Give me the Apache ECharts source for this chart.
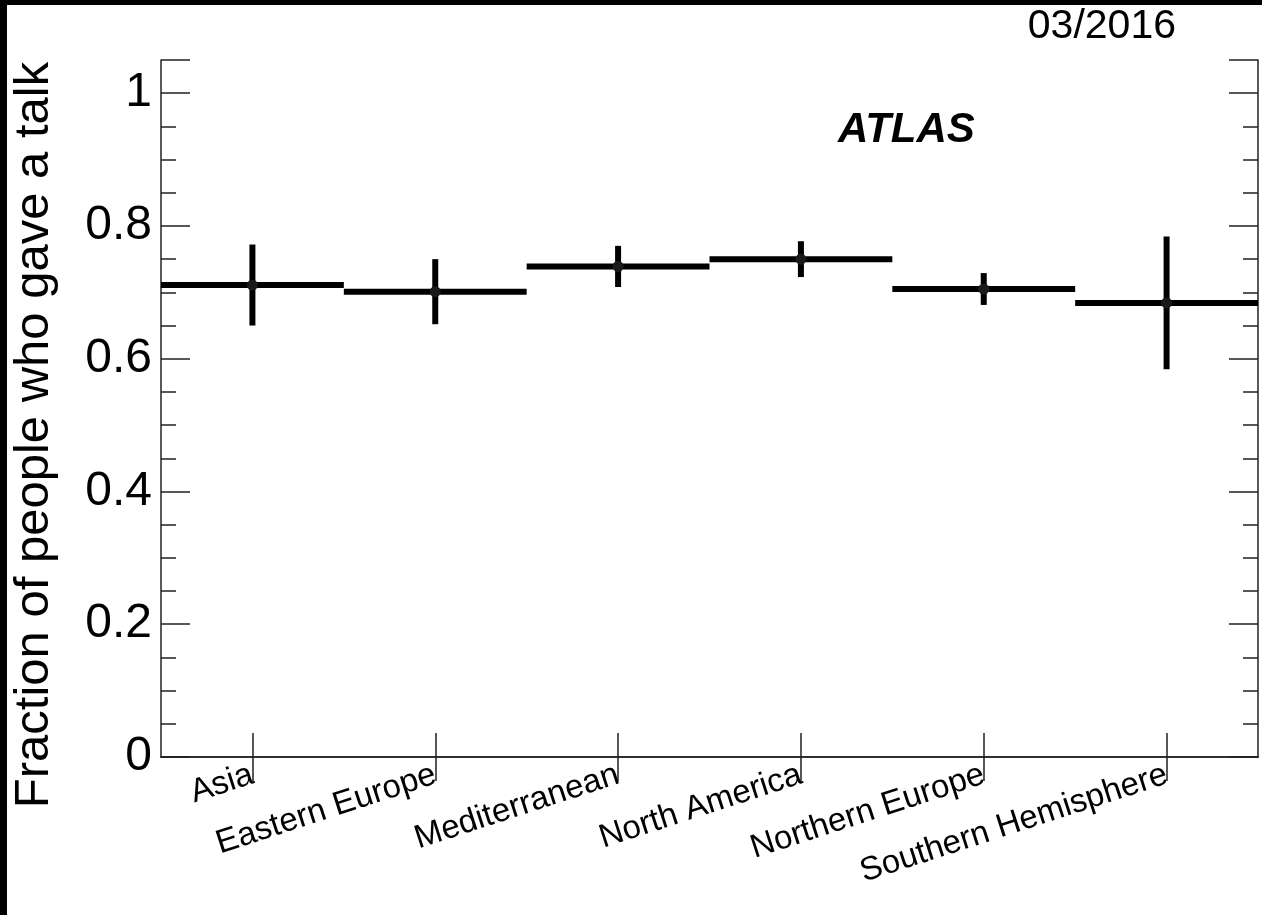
<!DOCTYPE html>
<html>
<head>
<meta charset="utf-8">
<script src="https://cdn.jsdelivr.net/npm/echarts@6/dist/echarts.min.js"></script>
<style>
html,body{margin:0;padding:0;background:#fff;}
#chart{width:1262px;height:915px;}
</style>
</head>
<body>
<div id="chart"></div>
<script>
const categories = ['Asia', 'Eastern Europe', 'Mediterranean', 'North America', 'Northern Europe', 'Southern Hemisphere'];
const fractions = [0.711, 0.701, 0.739, 0.750, 0.705, 0.684];
const errors = [0.061, 0.049, 0.031, 0.027, 0.024, 0.100];
const yTickValues = [0, 0.2, 0.4, 0.6, 0.8, 1];
const yTitle = 'Fraction of people who gave a talk';
const dateText = '03/2016';
const expText = 'ATLAS';

const FONT = '"Liberation Sans", Arial, Helvetica, sans-serif';
const seriesData = categories.map((c, i) => [i, fractions[i], errors[i]]);

function renderItem(params, api) {
  const i = api.value(0), v = api.value(1), e = api.value(2);
  const c = api.coord([i, v]);
  const bw = api.size([1, 0])[0];
  const top = api.coord([i, v + e]);
  const bot = api.coord([i, v - e]);
  return {
    type: 'group',
    children: [
      {type: 'line', shape: {x1: c[0] - bw / 2, y1: c[1], x2: c[0] + bw / 2, y2: c[1]}, style: {stroke: '#000', lineWidth: 6}},
      {type: 'line', shape: {x1: c[0], y1: top[1], x2: c[0], y2: bot[1]}, style: {stroke: '#000', lineWidth: 6}},
      {type: 'circle', shape: {cx: c[0], cy: c[1], r: 5.5}, style: {fill: '#1a1a1a'}}
    ]
  };
}

const axisLineStyle = {color: '#222', width: 1.5};
const yAxisBase = {
  type: 'value', min: 0, max: 1.05, interval: 0.2,
  axisLine: {show: true, lineStyle: axisLineStyle},
  axisTick: {show: true, inside: true, length: 29, lineStyle: axisLineStyle},
  minorTick: {show: true, splitNumber: 4, length: 15, lineStyle: axisLineStyle},
  splitLine: {show: false}, minorSplitLine: {show: false}
};

const chart = echarts.init(document.getElementById('chart'), null, {renderer: 'canvas'});
chart.setOption({
  backgroundColor: '#fff',
  animation: false,
  grid: {left: 161, right: 4, top: 60, bottom: 158, containLabel: false},
  xAxis: [
    {
      type: 'category', data: categories, boundaryGap: true, position: 'bottom',
      axisLine: {show: true, lineStyle: axisLineStyle},
      axisTick: {show: true, alignWithLabel: true, inside: true, length: 24, lineStyle: axisLineStyle},
      axisLabel: {rotate: 18, fontSize: 33, color: '#000', margin: 17, interval: 0, fontFamily: FONT},
      splitLine: {show: false}
    },
    {
      type: 'category', data: categories, boundaryGap: true, position: 'top',
      axisLine: {show: true, lineStyle: axisLineStyle},
      axisTick: {show: true, alignWithLabel: true, inside: true, length: 24, lineStyle: axisLineStyle},
      axisLabel: {show: false},
      splitLine: {show: false}
    }
  ],
  yAxis: [
    Object.assign({}, yAxisBase, {
      position: 'left',
      axisLabel: {
        show: true, fontSize: 48, color: '#000', margin: 9, fontFamily: FONT, showMaxLabel: false,
        formatter: function (v) {
          const t = yTickValues.find(x => Math.abs(x - v) < 1e-6);
          if (t === undefined) return '';
          return (t === 0 || t === 1) ? String(t) : t.toFixed(1);
        }
      }
    }),
    Object.assign({}, yAxisBase, {position: 'right', axisLabel: {show: false}})
  ],
  series: [{
    type: 'custom',
    xAxisIndex: 0, yAxisIndex: 0,
    renderItem: renderItem,
    data: seriesData,
    clip: true
  }],
  graphic: [
    {type: 'text', x: 34, y: 435, rotation: Math.PI / 2,
     style: {text: yTitle, x: 0, y: 0, textAlign: 'center', textVerticalAlign: 'middle', font: '49px ' + FONT, fill: '#000'}},
    {type: 'text', x: 838, y: 130,
     style: {text: expText, x: 0, y: 0, textAlign: 'left', textVerticalAlign: 'middle', font: 'italic bold 42px ' + FONT, fill: '#000'}},
    {type: 'text', x: 1176, y: 27,
     style: {text: dateText, x: 0, y: 0, textAlign: 'right', textVerticalAlign: 'middle', font: '41px ' + FONT, fill: '#000'}},
    {type: 'rect', shape: {x: 0, y: 0, width: 1262, height: 5}, style: {fill: '#000'}, z: 100},
    {type: 'rect', shape: {x: 0, y: 0, width: 7, height: 915}, style: {fill: '#000'}, z: 100}
  ]
});
</script>
</body>
</html>
